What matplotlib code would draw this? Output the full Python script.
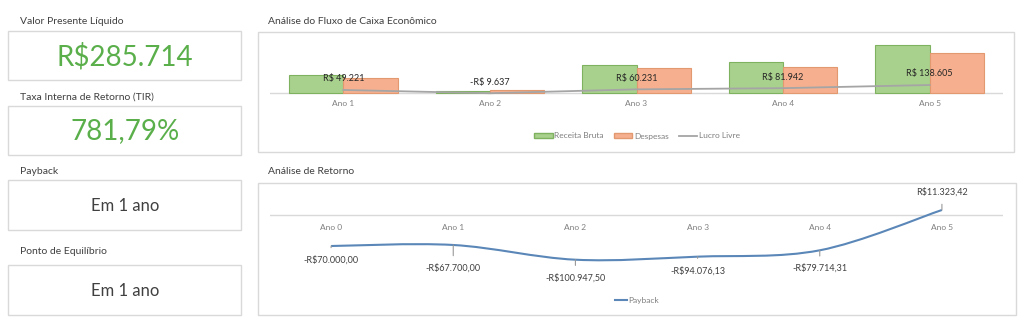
import matplotlib
matplotlib.use("Agg")
import matplotlib.pyplot as plt
import numpy as np
from matplotlib.patches import Rectangle, Patch, PathPatch
from matplotlib.lines import Line2D
from matplotlib.path import Path
from matplotlib.transforms import blended_transform_factory

plt.rcParams['font.family'] = ['Lato', 'DejaVu Sans']

# ---------------- data ----------------
kpi_titles = ["Valor Presente Líquido", "Taxa Interna de Retorno (TIR)", "Payback", "Ponto de Equilíbrio"]
vpl = 285714
tir = 781.79
payback_text = "Em 1 ano"
equilibrio_text = "Em 1 ano"

fluxo_categories = ["Ano 1", "Ano 2", "Ano 3", "Ano 4", "Ano 5"]
receita_bruta = [320000, 36000, 500000, 545000, 860000]
lucro_livre = [49221, -9637, 60231, 81942, 138605]
despesas = [r - l for r, l in zip(receita_bruta, lucro_livre)]

retorno_categories = ["Ano 0", "Ano 1", "Ano 2", "Ano 3", "Ano 4", "Ano 5"]
payback_values = [-70000.00, -67700.00, -100947.50, -94076.13, -79714.31, 11323.42]

# ---------------- helpers ----------------
W, H = 1024, 326
DPI = 100


def br(v, dec=0):
    s = f"{abs(v):,.{dec}f}"
    s = s.replace(",", "X").replace(".", ",").replace("X", ".")
    return s


def fx(px):
    return px / W


def fy(py):
    return 1 - py / H


fig = plt.figure(figsize=(W / DPI, H / DPI), dpi=DPI)
fig.patch.set_facecolor("white")

TXT = "#404040"
GRAY_TXT = "#7f7f7f"
BORDER = "#d9d9d9"
GREEN_TXT = "#5aaf4b"


def box(x0, y0, x1, y1):
    fig.add_artist(Rectangle((fx(x0), fy(y1)), fx(x1) - fx(x0), fy(y0) - fy(y1),
                             transform=fig.transFigure, fill=False,
                             edgecolor=BORDER, linewidth=1.0))


# ---------------- left KPI panel ----------------
kpi_values = [f"R${br(vpl)}", f"{br(tir, 2)}%", payback_text, equilibrio_text]
kpi_title_y = [22, 97, 171, 251]
kpi_boxes = [(31, 80), (106, 155), (180, 230), (265, 315)]
kpi_styles = [(GREEN_TXT, 20), (GREEN_TXT, 20), (TXT, 12), (TXT, 12)]
for t, v, ty, (b0, b1), (col, fs) in zip(kpi_titles, kpi_values, kpi_title_y, kpi_boxes, kpi_styles):
    fig.text(fx(20), fy(ty), t, ha="left", va="center", fontsize=7.5, color=TXT)
    box(8, b0, 241, b1)
    fig.text(fx(125), fy((b0 + b1) / 2 + 1), v, ha="center", va="center", fontsize=fs, color=col)

# ---------------- chart 1: Fluxo de caixa ----------------
fig.text(fx(268), fy(22), "Análise do Fluxo de Caixa Econômico", ha="left", va="center",
         fontsize=7.5, color=TXT)
box(258, 32, 1014, 152)

ax1_top, ax1_zero, ax1_bot = 35, 92.7, 100
scale1 = 18000.0
ax1 = fig.add_axes([fx(270), fy(ax1_bot), fx(1003) - fx(270), fy(ax1_top) - fy(ax1_bot)])
ax1.set_xlim(-0.5, len(fluxo_categories) - 0.5)
ax1.set_ylim(-(ax1_bot - ax1_zero) * scale1, (ax1_zero - ax1_top) * scale1)
ax1.axis("off")
x1 = np.arange(len(fluxo_categories))
bw = 0.37
ax1.bar(x1 - bw / 2, receita_bruta, width=bw, color="#a9d18e", edgecolor="#7fb25e", linewidth=0.8, zorder=2)
ax1.bar(x1 + bw / 2, despesas, width=bw, color="#f6b08f", edgecolor="#e3996f", linewidth=0.8, zorder=2)
ax1.axhline(0, color="#d9d9d9", linewidth=1.0, zorder=1)
ax1.plot(x1, lucro_livre, color="#a5a5a5", linewidth=1.3, zorder=3)
for xi, v in zip(x1, lucro_livre):
    lab = ("-" if v < 0 else "") + "R$ " + br(v)
    ax1.annotate(lab, (xi, v), xytext=(0, 11 * 0.72), textcoords="offset points",
                 ha="center", va="center", fontsize=6.5, color="#262626", zorder=4)
tr1 = blended_transform_factory(ax1.transData, fig.transFigure)
for xi, c in zip(x1, fluxo_categories):
    ax1.text(xi, fy(104), c, transform=tr1, ha="center", va="center", fontsize=6, color=GRAY_TXT)
handles1 = [Patch(facecolor="#a9d18e", edgecolor="#7fb25e", label="Receita Bruta"),
            Patch(facecolor="#f6b08f", edgecolor="#e3996f", label="Despesas"),
            Line2D([], [], color="#a5a5a5", linewidth=1.3, label="Lucro Livre")]
fig.legend(handles=handles1, loc="center", bbox_to_anchor=(fx(637), fy(136)), ncol=3,
           frameon=False, fontsize=6, labelcolor=GRAY_TXT, handlelength=2.2, handleheight=0.6,
           handletextpad=0.2, columnspacing=1.2)

# ---------------- chart 2: Retorno ----------------
fig.text(fx(268), fy(171), "Análise de Retorno", ha="left", va="center", fontsize=7.5, color=TXT)
box(258, 183, 1016, 315)

ax2_top, ax2_zero, ax2_bot = 185, 215, 290
scale2 = 2258.0
ax2 = fig.add_axes([fx(270), fy(ax2_bot), fx(1003) - fx(270), fy(ax2_top) - fy(ax2_bot)])
ax2.set_xlim(-0.5, len(retorno_categories) - 0.5)
ax2.set_ylim(-(ax2_bot - ax2_zero) * scale2, (ax2_zero - ax2_top) * scale2)
ax2.axis("off")
ax2.axhline(0, color="#d9d9d9", linewidth=1.0, zorder=1)
x2 = np.arange(len(retorno_categories), dtype=float)
y2 = np.array(payback_values)

# smoothed line (Catmull-Rom as cubic Bezier segments)
pts = np.column_stack([x2, y2])
verts = [pts[0]]
codes = [Path.MOVETO]
n = len(pts)
for i in range(n - 1):
    p0 = pts[max(i - 1, 0)]
    p1 = pts[i]
    p2 = pts[i + 1]
    p3 = pts[min(i + 2, n - 1)]
    c1 = p1 + (p2 - p0) / 6.0
    c2 = p2 - (p3 - p1) / 6.0
    verts += [c1, c2, p2]
    codes += [Path.CURVE4] * 3
LINE_BLUE = "#5a87b8"
ax2.add_patch(PathPatch(Path(verts, codes), fill=False, edgecolor=LINE_BLUE, linewidth=1.5, zorder=3))

label_offsets_px = [14, 23, 18, 14, 18, -18]
for xi, v, off in zip(x2, y2, label_offsets_px):
    lab = ("-" if v < 0 else "") + "R$" + br(v, 2)
    ax2.annotate(lab, (xi, v), xytext=(0, -off * 0.72), textcoords="offset points",
                 ha="center", va="center", fontsize=6.5, color=TXT,
                 arrowprops=dict(arrowstyle="-", color="#999999", linewidth=0.8,
                                 shrinkA=3.5, shrinkB=0))
tr2 = blended_transform_factory(ax2.transData, fig.transFigure)
for xi, c in zip(x2, retorno_categories):
    ax2.text(xi, fy(227), c, transform=tr2, ha="center", va="center", fontsize=6, color=GRAY_TXT)
handles2 = [Line2D([], [], color=LINE_BLUE, linewidth=1.5, label="Payback")]
fig.legend(handles=handles2, loc="center", bbox_to_anchor=(fx(637), fy(300)), ncol=1,
           frameon=False, fontsize=6, labelcolor=GRAY_TXT, handlelength=1.4, handletextpad=0.2)

fig.savefig("out.png", dpi=DPI, facecolor="white")
